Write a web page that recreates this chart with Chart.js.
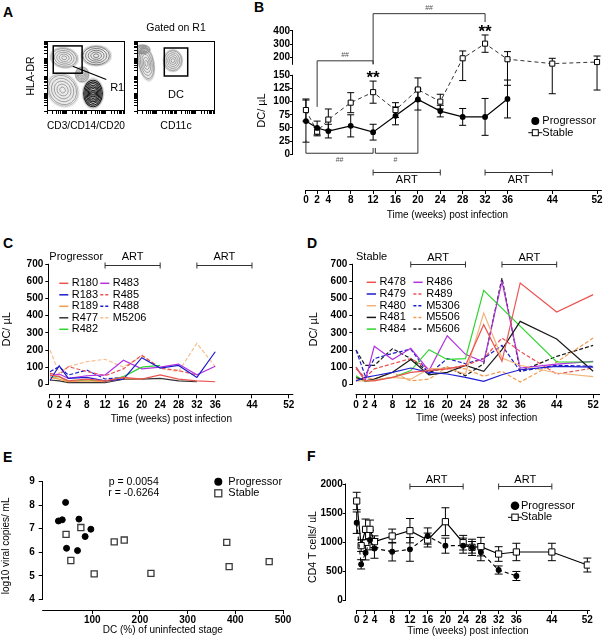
<!DOCTYPE html>
<html>
<head>
<meta charset="utf-8">
<script src="https://cdn.jsdelivr.net/npm/chart.js@4.4.1/dist/chart.umd.min.js"></script>
<style>
  body { margin: 0; background: #fff; }
  #page { position: relative; width: 607px; height: 640px; overflow: hidden; }
  canvas { position: absolute; }
  .lt { position: absolute; font: bold 14px/14px 'Liberation Sans', Arial, sans-serif; color: #000; }
</style>
</head>
<body>
<div id="page">
  <div class="lt" style="left:3px;top:5px">A</div>
  <div class="lt" style="left:254px;top:0px">B</div>
  <div class="lt" style="left:3px;top:236px">C</div>
  <div class="lt" style="left:307px;top:236px">D</div>
  <div class="lt" style="left:3px;top:450px">E</div>
  <div class="lt" style="left:307px;top:449px">F</div>
  <canvas id="cA1" width="130" height="120" style="left:0;top:15px"></canvas>
  <canvas id="cA2" width="90" height="120" style="left:130px;top:15px"></canvas>
  <canvas id="cB" width="397" height="240" style="left:210px;top:0"></canvas>
  <canvas id="cC" width="300" height="185" style="left:0;top:245px"></canvas>
  <canvas id="cD" width="307" height="185" style="left:300px;top:245px"></canvas>
  <canvas id="cE" width="300" height="180" style="left:0;top:460px"></canvas>
  <canvas id="cF" width="307" height="180" style="left:300px;top:460px"></canvas>
</div>
<script>
// ---- shared ----
const weekTicks = [0, 2, 4, 8, 12, 16, 20, 24, 28, 32, 36, 44, 52];
const artPeriods = [[12, 24], [32, 44]];

// ---- A: flow plots (populations on a 0-100 display scale) ----
const a1X = [22, 63, 45, 20, 59];
const a1Y = [76, 79, 52, 30, 25];
const a1W = [16, 17, 8, 17, 12];
const a1H = [13, 13, 10, 22, 19];
const a1Tilt = [-10, 0, 0, 35, 0];
const a1Dense = [0, 1, 0, 0, 2];
const a2X = [12, 7, 46];
const a2Y = [68, 88, 72];
const a2W = [9, 9, 11];
const a2H = [22, 6, 14];
const a2Tilt = [10, 0, 0];
const a2Dense = [0, 0, 0];
const gateR1 = [8, 45, 54, 93];
const gateDC = [35, 65, 50, 90];

// ---- B: DC per uL, mean and error ----
const bWeeksProg = [0, 2, 4, 8, 12, 16, 20, 24, 28, 32, 36];
const bDcProg = [63, 50, 44, 54, 42, 73, 104, 82, 71, 71, 105];
const bErrProg = [40, 13, 13, 21, 15, 17, 20, 11, 16, 35, 36];
const bWeeksStab = [0, 2, 4, 8, 12, 16, 20, 24, 28, 32, 36, 44, 52];
const bDcStab = [84, 43, 66, 98, 118, 84, 123, 100, 195, 305, 188, 155, 167];
const bErrStab = [21, 8, 20, 19, 21, 14, 22, 14, 55, 65, 57, 40, 45];
const bTicks = [0, 25, 50, 75, 100, 125, 150, 200, 300, 400];

// ---- C: progressors, DC per uL by week ----
const cR180 = [55, 45, 20, 30, 20, 40, 30, 55, 30, 20, 15];
const cR183 = [22, 108, 35, 40, 20, 30, 155, 95, 110, 40, 190];
const cR189 = [40, 30, 15, 20, 15, 35, 30];
const cR477 = [25, 20, 10, 10, 10, 30, 30, 35, 20, 15];
const cR482 = [40, 45, 15, 25, 15, 45, 100, 110];
const cR483 = [50, 60, 35, 50, 55, 140, 90, 100, 118, 55, 105];
const cR485 = [64, 55, 103, 75, 50, 90, 170, 95, 80, 55];
const cR488 = [73, 103, 54, 83, 31, 41];
const cM5206 = [200, 65, 103, 132, 146, 100, 165, 93, 74, 239, 103];

// ---- D: stables, DC per uL by week ----
const dR478 = [100, 20, 20, 40, 70, 80, 90, 110, 348, 134, 591, 422, 523];
const dR479 = [20, 40, 50, 70, 95, 70, 60, 40, 17, 56, 85, 105, 100];
const dR480 = [20, 20, 25, 40, 30, 90, 95, 60, 416, 153, 111, 66, 45];
const dR481 = [40, 20, 30, 70, 145, 55, 70, 110, 76, 202, 367, 264, 76];
const dR484 = [50, 15, 25, 40, 80, 202, 145, 150, 548, null, null, 130, 130];
const dR486 = [100, 20, 222, 145, 210, 80, 283, 175, 130, 600, 95, 118, 134];
const dR489 = [90, 40, 90, 120, 150, 90, 90, 110, 150, 270, 192, 60, 95];
const dM5306 = [200, 50, 150, 180, 205, 60, 150, 120, 150, 227, 76, 111, 105];
const dM5506 = [30, 40, 30, 70, 20, 30, 100, 90, 47, 76, 13, 130, 270];
const dM5606 = [200, 110, 110, 208, 150, 70, 100, 50, 120, 620, 76, 163, 227];

// ---- E: viral load vs DC ----
const eProgX = [44, 29, 37, 72, 97, 85, 46, 69];
const eProgY = [8.12, 7.33, 7.38, 7.41, 6.98, 6.67, 6.17, 6.07];
const eStabX = [45, 76, 55, 104, 146, 167, 223, 382, 387, 471];
const eStabY = [6.76, 7.05, 5.65, 5.08, 6.44, 6.52, 5.1, 6.42, 5.39, 5.6];

// ---- F: CD4 T cells per uL ----
const fWeeksStab = [0, 1, 2, 3, 4, 8, 12, 16, 20, 24, 26, 28, 32, 36, 44, 52];
const fCd4Stab = [1707, 937, 1218, 1218, 1006, 1103, 1195, 1034, 1350, 988, 908, 920, 793, 828, 828, 603];
const fErrStab = [150, 100, 178, 160, 100, 120, 210, 120, 240, 126, 100, 160, 126, 150, 150, 120];
const fWeeksProg = [0, 1, 2, 3, 4, 8, 12, 16, 20, 24, 26, 28, 32, 36];
const fCd4Prog = [1333, 615, 816, 1034, 890, 833, 873, 1103, 937, 937, 908, 822, 517, 414];
const fErrProg = [185, 80, 125, 170, 170, 160, 205, 140, 130, 130, 140, 145, 70, 78];

const FONT = "'Liberation Sans', Arial, Helvetica, sans-serif";
const fnt = (size, weight) => (weight ? weight + ' ' : '') + size + 'px ' + FONT;

// broken y axis for panel B: 0-150 linear, gap, 150-400 compressed
const BRK = 150, GAP = 20.9, UPK = 0.2529;
const toVirt = v => v <= BRK ? v : BRK + GAP + (v - BRK) * UPK;
const fromVirt = t => t <= BRK ? t : (t < BRK + GAP ? BRK : BRK + (t - BRK - GAP) / UPK);
const Linear = Chart.LinearScale || Chart.registry.getScale('linear');
class BrokenScale extends Linear {
  getPixelForValue(v) { return super.getPixelForValue(toVirt(v)); }
  getValueForPixel(p) { return fromVirt(super.getValueForPixel(p)); }
}
BrokenScale.id = 'broken';
Chart.register(BrokenScale);

function pts(xs, ys) {
  return xs.map((x, i) => ({ x, y: ys[i] })).filter(p => p.y !== null && p.y !== undefined);
}

function drawText(ctx, t, x, y, font, align, color) {
  ctx.save();
  ctx.font = font;
  ctx.fillStyle = color || '#000';
  ctx.textAlign = align || 'center';
  ctx.textBaseline = 'middle';
  ctx.fillText(t, x, y);
  ctx.restore();
}

function xAxis(o) {
  return {
    type: 'linear', min: o.min, max: o.max,
    afterBuildTicks: s => { s.ticks = o.ticks.map(v => ({ value: v })); },
    afterFit: s => { s.height = o.h; },
    ticks: { display: o.labels !== false, autoSkip: false, maxRotation: 0, minRotation: 0, padding: o.pad ?? 1,
      color: '#000', font: { family: FONT, size: 10, weight: 'bold' }, callback: v => String(v) },
    grid: { drawOnChartArea: false, drawTicks: true, tickLength: o.tl || 4, color: '#000' },
    border: { display: false },
    title: { display: !!o.title, text: o.title, color: '#000', font: { family: FONT, size: o.fs || 10 },
      padding: { top: 0, bottom: o.tp || 0 } }
  };
}

function yAxis(o) {
  return {
    type: o.type || 'linear', min: o.min, max: o.max,
    afterBuildTicks: s => { s.ticks = o.ticks.map(v => ({ value: v })); },
    afterFit: s => { s.width = o.w; },
    ticks: { display: o.labels !== false, autoSkip: false, padding: o.pad ?? 1,
      color: '#000', font: { family: FONT, size: 10, weight: 'bold' }, callback: v => String(v) },
    grid: { drawOnChartArea: false, drawTicks: true, tickLength: o.tl || 4, color: '#000' },
    border: { display: false },
    title: { display: !!o.title, text: o.title, color: '#000', font: { family: FONT, size: o.fs || 11 },
      padding: { top: o.tp || 0, bottom: 0 } }
  };
}

function baseOpts(pad, scales) {
  return {
    responsive: false, animation: false, devicePixelRatio: 1, events: [],
    layout: { padding: pad },
    plugins: { legend: { display: false }, tooltip: { enabled: false } },
    scales
  };
}

// axis lines that stop at the end ticks (offset axes)
function axesLines(ySegs, xSeg) {
  return {
    id: 'axesLines',
    afterDatasetsDraw(chart) {
      const { ctx, chartArea: a, scales: { x, y } } = chart;
      ctx.save();
      ctx.strokeStyle = '#000';
      ctx.lineWidth = 1;
      ctx.beginPath();
      const lx = Math.round(a.left) - 0.5;
      ySegs.forEach(([v0, v1]) => {
        ctx.moveTo(lx, y.getPixelForValue(v0) + 0.5);
        ctx.lineTo(lx, y.getPixelForValue(v1) - 0.5);
      });
      const by = Math.round(a.bottom) + 0.5;
      ctx.moveTo(x.getPixelForValue(xSeg[0]) - 0.5, by);
      ctx.lineTo(x.getPixelForValue(xSeg[1]), by);
      ctx.stroke();
      ctx.restore();
    }
  };
}

function errorBars(list) {
  return {
    id: 'errorBars',
    beforeDatasetsDraw(chart) {
      const { ctx, scales: { y } } = chart;
      ctx.save();
      ctx.strokeStyle = '#000';
      ctx.lineWidth = 1;
      list.forEach(({ ds, err, cap }) => {
        const meta = chart.getDatasetMeta(ds);
        const data = chart.data.datasets[ds].data;
        meta.data.forEach((pt, i) => {
          const v = data[i].y, e = err[i];
          const top = y.getPixelForValue(v + e), bot = y.getPixelForValue(v - e);
          ctx.beginPath();
          ctx.moveTo(pt.x, top); ctx.lineTo(pt.x, bot);
          ctx.moveTo(pt.x - cap, top); ctx.lineTo(pt.x + cap, top);
          ctx.moveTo(pt.x - cap, bot); ctx.lineTo(pt.x + cap, bot);
          ctx.stroke();
        });
      });
      ctx.restore();
    }
  };
}

// ART treatment bars and free text in data units
function artBars(barY, labelY, extra) {
  return {
    id: 'artBars',
    afterDraw(chart) {
      const { ctx, scales: { x, y } } = chart;
      ctx.save();
      ctx.strokeStyle = '#333';
      ctx.lineWidth = 1;
      artPeriods.forEach(([w0, w1]) => {
        const x0 = x.getPixelForValue(w0), x1 = x.getPixelForValue(w1), py = Math.round(y.getPixelForValue(barY)) + 0.5;
        ctx.beginPath();
        ctx.moveTo(x0, py); ctx.lineTo(x1, py);
        ctx.moveTo(x0, py - 3); ctx.lineTo(x0, py + 3);
        ctx.moveTo(x1, py - 3); ctx.lineTo(x1, py + 3);
        ctx.stroke();
        drawText(ctx, 'ART', (x0 + x1) / 2, y.getPixelForValue(labelY), fnt(11));
      });
      ctx.restore();
      (extra || []).forEach(t => drawText(ctx, t.text, x.getPixelForValue(t.x), y.getPixelForValue(t.y), t.font, t.align));
    }
  };
}

function lineLegend(x0, y0, colGap, rowH, perCol, len) {
  return {
    id: 'lineLegend',
    afterDraw(chart) {
      const ctx = chart.ctx;
      chart.data.datasets.forEach((ds, i) => {
        const x = x0 + Math.floor(i / perCol) * colGap, y = y0 + (i % perCol) * rowH;
        ctx.save();
        ctx.strokeStyle = ds.borderColor;
        ctx.lineWidth = 1.5;
        ctx.setLineDash(ds.borderDash ? [3, 2] : []);
        ctx.beginPath(); ctx.moveTo(x, y); ctx.lineTo(x + len, y); ctx.stroke();
        ctx.restore();
        drawText(ctx, ds.label, x + len + 3.5, y, fnt(11), 'left');
      });
    }
  };
}

function markerLegend(items) {
  return {
    id: 'markerLegend',
    afterDraw(chart) {
      const ctx = chart.ctx;
      items.forEach(it => {
        ctx.save();
        ctx.strokeStyle = '#000';
        ctx.lineWidth = 1;
        if (it.line) {
          ctx.beginPath(); ctx.moveTo(it.x - 7, it.y); ctx.lineTo(it.x + 7, it.y); ctx.stroke();
        }
        if (it.shape === 'circle') {
          ctx.fillStyle = '#000';
          ctx.beginPath(); ctx.arc(it.x, it.y, it.r, 0, Math.PI * 2); ctx.fill();
        } else {
          ctx.fillStyle = '#fff';
          ctx.fillRect(it.x - it.r, it.y - it.r, it.r * 2, it.r * 2);
          ctx.strokeStyle = it.color || '#000';
          ctx.lineWidth = it.lw || 1;
          ctx.strokeRect(it.x - it.r, it.y - it.r, it.r * 2, it.r * 2);
        }
        ctx.restore();
        drawText(ctx, it.text, it.tx, it.y, fnt(11), 'left');
      });
    }
  };
}

// ---------- A ----------
function flowPlot(p, gate, lbl, lead, topText) {
  return {
    id: 'flowPlot',
    afterDatasetsDraw(chart) {
      const { ctx, chartArea: a, scales: { x, y } } = chart;
      ctx.save();
      ctx.beginPath(); ctx.rect(a.left, a.top, a.width, a.height); ctx.clip();
      p.X.forEach((cx, i) => {
        const px = x.getPixelForValue(cx), py = y.getPixelForValue(p.Y[i]);
        const rx = x.getPixelForValue(cx + p.W[i]) - px, ry = py - y.getPixelForValue(p.Y[i] + p.H[i]);
        const rot = -p.T[i] * Math.PI / 180, dense = p.D[i], n = dense === 2 ? 8 : 5;
        ctx.fillStyle = 'rgba(150,150,150,0.2)';
        ctx.beginPath(); ctx.ellipse(px, py, rx * 1.22, ry * 1.22, rot, 0, Math.PI * 2); ctx.fill();
        ctx.strokeStyle = 'rgba(110,110,110,0.6)';
        ctx.lineWidth = 0.6;
        ctx.beginPath(); ctx.ellipse(px, py, rx * 1.1, ry * 1.1, rot, 0, Math.PI * 2); ctx.stroke();
        for (let k = n; k >= 1; k--) {
          const s = k / n;
          ctx.strokeStyle = dense === 2 ? '#1a1a1a' : (dense ? '#555' : '#808080');
          ctx.lineWidth = dense === 2 ? 1.1 : 0.7;
          ctx.beginPath(); ctx.ellipse(px, py, rx * s, ry * s, rot, 0, Math.PI * 2); ctx.stroke();
        }
      });
      ctx.restore();
      ctx.save();
      ctx.strokeStyle = '#000';
      ctx.lineWidth = 1;
      ctx.strokeRect(Math.round(a.left) + 0.5, Math.round(a.top) + 0.5, Math.round(a.width) - 1, Math.round(a.height) - 1);
      ctx.lineWidth = 1.5;
      const gx0 = x.getPixelForValue(gate[0]), gx1 = x.getPixelForValue(gate[1]);
      const gy0 = y.getPixelForValue(gate[2]), gy1 = y.getPixelForValue(gate[3]);
      ctx.strokeRect(gx0, gy1, gx1 - gx0, gy0 - gy1);
      if (lead) {
        ctx.lineWidth = 1.2;
        ctx.beginPath();
        ctx.moveTo(x.getPixelForValue(lead[0]), y.getPixelForValue(lead[1]));
        ctx.lineTo(x.getPixelForValue(lead[2]), y.getPixelForValue(lead[3]));
        ctx.stroke();
      }
      ctx.restore();
      drawText(ctx, lbl.text, x.getPixelForValue(lbl.x), y.getPixelForValue(lbl.y), fnt(11));
      if (topText) drawText(ctx, topText.text, x.getPixelForValue(topText.x), y.getPixelForValue(topText.y), fnt(10.5));
    }
  };
}

const logTicks = [];
for (let d = 0; d < 4; d++) for (let k = 1; k < 10; k++) logTicks.push(d * 25 + 25 * Math.log10(k));

function flowChart(id, yw, p, gate, lbl, lead, xTitle, yTitle, topText) {
  return new Chart(document.getElementById(id), {
    type: 'scatter',
    data: { datasets: [] },
    options: baseOpts({ top: 26, right: 5 }, {
      x: xAxis({ min: 0, max: 100, ticks: logTicks, h: 24, labels: false, tl: 3, title: xTitle, fs: 10.5, tp: 2.7 }),
      y: yAxis({ min: 0, max: 100, ticks: logTicks, w: yw, labels: false, tl: 3, title: yTitle, fs: 10.5, tp: 25 })
    }),
    plugins: [flowPlot(p, gate, lbl, lead, topText)]
  });
}

flowChart('cA1', 47, { X: a1X, Y: a1Y, W: a1W, H: a1H, T: a1Tilt, D: a1Dense }, gateR1,
  { text: 'R1', x: 90, y: 33 }, [33, 64, 76, 45], 'CD3/CD14/CD20', 'HLA-DR');
flowChart('cA2', 7, { X: a2X, Y: a2Y, W: a2W, H: a2H, T: a2Tilt, D: a2Dense }, gateDC,
  { text: 'DC', x: 50, y: 23 }, null, 'CD11c', '', { text: 'Gated on R1', x: 50, y: 118.6 });

// ---------- B ----------
const bBrackets = [
  { x0: 12, x1: 32, y: 530, d0: 150.05, d1: 467 },
  { x0: 2, x1: 12, y: 176, d0: 90, d1: 150.05 },
  { x0: 0, x1: 12, y: 2, d0: 27, d1: 12 },
  { x0: 12.4, x1: 20, y: 2, d0: 12, d1: 87 }
];
const bMarks = [
  { text: '##', x: 22, y: 570, font: fnt(7), color: '#555' },
  { text: '##', x: 7, y: 220, font: fnt(7), color: '#555' },
  { text: '##', x: 6, y: -11, font: fnt(7), color: '#555' },
  { text: '#', x: 16, y: -11, font: fnt(7), color: '#555' },
  { text: '**', x: 12, y: 145, font: fnt(17, 'bold') },
  { text: '**', x: 32, y: 392, font: fnt(17, 'bold') }
];
const bracketPlugin = {
  id: 'brackets',
  afterDraw(chart) {
    const { ctx, scales: { x, y } } = chart;
    ctx.save();
    ctx.strokeStyle = '#333';
    ctx.lineWidth = 1;
    bBrackets.forEach(b => {
      const x0 = x.getPixelForValue(b.x0), x1 = x.getPixelForValue(b.x1), py = y.getPixelForValue(b.y);
      ctx.beginPath();
      ctx.moveTo(x0, y.getPixelForValue(b.d0)); ctx.lineTo(x0, py);
      ctx.lineTo(x1, py); ctx.lineTo(x1, y.getPixelForValue(b.d1));
      ctx.stroke();
    });
    ctx.restore();
    bMarks.forEach(m => drawText(ctx, m.text, x.getPixelForValue(m.x), y.getPixelForValue(m.y), m.font, 'center', m.color));
  }
};

new Chart(document.getElementById('cB'), {
  type: 'line',
  data: {
    datasets: [
      { label: 'Progressor', data: pts(bWeeksProg, bDcProg), borderColor: '#000', borderWidth: 1.2,
        pointStyle: 'circle', pointRadius: 2.3, pointBackgroundColor: '#000', pointBorderColor: '#000', tension: 0 },
      { label: 'Stable', data: pts(bWeeksStab, bDcStab), borderColor: '#333', borderWidth: 1, borderDash: [4, 3],
        pointStyle: 'rect', pointRadius: 3.6, pointBackgroundColor: '#fff', pointBorderColor: '#000', pointBorderWidth: 1, tension: 0 }
    ]
  },
  options: baseOpts({ top: 31, right: 4 }, {
    x: xAxis({ min: -2.31, max: 52.85, ticks: weekTicks, h: 50, title: 'Time (weeks) post infection', tp: 19, pad: 0 }),
    y: yAxis({ type: 'broken', min: -67.8, max: 234.1, ticks: bTicks, w: 83, tl: 3, pad: 0, title: 'DC/ µL', tp: 45.7 })
  }),
  plugins: [
    axesLines([[0, 150], [150.0001, 400]], [0, 52.85]),
    errorBars([{ ds: 0, err: bErrProg, cap: 3.5 }, { ds: 1, err: bErrStab, cap: 3.5 }]),
    artBars(-33, -48),
    bracketPlugin,
    markerLegend([
      { shape: 'circle', x: 325.3, y: 121, r: 4, text: 'Progressor', tx: 332.3 },
      { shape: 'square', x: 325.3, y: 132.7, r: 3, line: true, text: 'Stable', tx: 332.3 }
    ])
  ]
});

// ---------- C and D ----------
function animalDs(label, data, color, dashed) {
  return { label, data: pts(weekTicks, data), borderColor: color, borderWidth: 1.2, borderDash: dashed ? [4, 2] : undefined,
    pointRadius: 0, tension: 0, spanGaps: true };
}
const RED = '#ea5350', BLUE = '#1d1dcf', ORANGE = '#f39c4f', PALEOR = '#f6c08e', BLACK = '#1a1a1a',
  GREEN = '#2fd52f', PURPLE = '#b232e2', TAN = '#f1b47a';

new Chart(document.getElementById('cC'), {
  type: 'line',
  data: {
    datasets: [
      animalDs('R180', cR180, RED), animalDs('R183', cR183, BLUE), animalDs('R189', cR189, ORANGE),
      animalDs('R477', cR477, '#333'), animalDs('R482', cR482, GREEN), animalDs('R483', cR483, PURPLE),
      animalDs('R485', cR485, RED, true), animalDs('R488', cR488, BLUE, true), animalDs('M5206', cM5206, PALEOR, true)
    ]
  },
  options: baseOpts({ top: 19.3, right: 6.7 }, {
    x: xAxis({ min: -0.15, max: 53, ticks: weekTicks, h: 35.7, title: 'Time (weeks) post infection', tp: 5 }),
    y: yAxis({ min: -58.3, max: 700, ticks: [0, 100, 200, 300, 400, 500, 600, 700], w: 49.3, pad: 2, title: 'DC/ µL', tp: 0.6 })
  }),
  plugins: [
    axesLines([[0, 700]], [0, 53]),
    artBars(696, 743, [{ text: 'Progressor', x: -0.15, y: 743, font: fnt(11), align: 'left' }]),
    lineLegend(59.3, 38.3, 41, 11.5, 5, 9)
  ]
});

new Chart(document.getElementById('cD'), {
  type: 'line',
  data: {
    datasets: [
      animalDs('R478', dR478, RED), animalDs('R479', dR479, BLUE), animalDs('R480', dR480, TAN),
      animalDs('R481', dR481, BLACK), animalDs('R484', dR484, GREEN), animalDs('R486', dR486, PURPLE),
      animalDs('R489', dR489, RED, true), animalDs('M5306', dM5306, BLUE, true), animalDs('M5506', dM5506, ORANGE, true),
      animalDs('M5606', dM5606, BLACK, true)
    ]
  },
  options: baseOpts({ top: 19.3, right: 7 }, {
    x: xAxis({ min: -0.6, max: 53.5, ticks: weekTicks, h: 35.7, title: 'Time (weeks) post infection', tp: 5.7 }),
    y: yAxis({ min: -58.3, max: 700, ticks: [0, 100, 200, 300, 400, 500, 600, 700], w: 53.3, pad: 2, title: 'DC/ µL', tp: 7.1 })
  }),
  plugins: [
    axesLines([[0, 700]], [0, 53.5]),
    artBars(700, 735, [{ text: 'Stable', x: 0, y: 745, font: fnt(11), align: 'left' }]),
    lineLegend(66.7, 37.3, 46.7, 11.7, 5, 9.3)
  ]
});

// ---------- E ----------
const eText = {
  id: 'eText',
  afterDraw(chart) {
    const { ctx, scales: { x, y } } = chart;
    drawText(ctx, 'p = 0.0054', x.getPixelForValue(187), y.getPixelForValue(9), fnt(10.5));
    drawText(ctx, 'r = -0.6264', x.getPixelForValue(187), y.getPixelForValue(8.51), fnt(10.5));
  }
};
new Chart(document.getElementById('cE'), {
  type: 'scatter',
  data: {
    datasets: [
      { label: 'Progressor', data: pts(eProgX, eProgY), pointStyle: 'circle', pointRadius: 3,
        pointBackgroundColor: '#000', pointBorderColor: '#000' },
      { label: 'Stable', data: pts(eStabX, eStabY), pointStyle: 'rect', pointRadius: 4.3,
        pointBackgroundColor: '#fff', pointBorderColor: '#3a3a3a', pointBorderWidth: 1.3 }
    ]
  },
  options: baseOpts({ top: 21.7, right: 17 }, {
    x: xAxis({ min: -4, max: 500, ticks: [100, 200, 300, 400, 500], h: 30, title: 'DC (%) of uninfected stage', tp: 4, pad: 0 }),
    y: yAxis({ min: 3.545, max: 9, ticks: [4, 5, 6, 7, 8, 9], w: 42.7, pad: 4, title: 'log10 viral copies/ mL', fs: 10, tp: 0 })
  }),
  plugins: [
    axesLines([[4, 9]], [-4, 500]),
    eText,
    markerLegend([
      { shape: 'circle', x: 218.3, y: 21.7, r: 4, text: 'Progressor', tx: 228.3 },
      { shape: 'square', x: 218.3, y: 33.3, r: 3.5, color: '#3a3a3a', lw: 1.3, text: 'Stable', tx: 228.3 }
    ])
  ]
});

// ---------- F ----------
new Chart(document.getElementById('cF'), {
  type: 'line',
  data: {
    datasets: [
      { label: 'Progressor', data: pts(fWeeksProg, fCd4Prog), borderColor: '#000', borderWidth: 1.1, borderDash: [4, 3],
        pointStyle: 'circle', pointRadius: 2.4, pointBackgroundColor: '#000', pointBorderColor: '#000', tension: 0 },
      { label: 'Stable', data: pts(fWeeksStab, fCd4Stab), borderColor: '#000', borderWidth: 1.2,
        pointStyle: 'rect', pointRadius: 4.4, pointBackgroundColor: '#fff', pointBorderColor: '#000', pointBorderWidth: 1, tension: 0 }
    ]
  },
  options: baseOpts({ top: 24, right: 17 }, {
    x: xAxis({ min: -2.48, max: 52.6, ticks: weekTicks, h: 30, title: 'Time (weeks) post infection', tp: 2.3, pad: 0 }),
    y: yAxis({ min: -172.4, max: 2000, ticks: [0, 500, 1000, 1500, 2000], w: 45.7, tl: 3, pad: 0, title: 'CD4 T cells/ uL', fs: 10.5, tp: 7 })
  }),
  plugins: [
    axesLines([[0, 2000]], [0, 52.6]),
    errorBars([{ ds: 0, err: fErrProg, cap: 4 }, { ds: 1, err: fErrStab, cap: 4 }]),
    artBars(1966, 2069),
    markerLegend([
      { shape: 'circle', x: 215, y: 45.7, r: 4.3, text: 'Progressor', tx: 221 },
      { shape: 'square', x: 215, y: 57.3, r: 3.2, line: true, text: 'Stable', tx: 221 }
    ])
  ]
});
</script>
</body>
</html>
